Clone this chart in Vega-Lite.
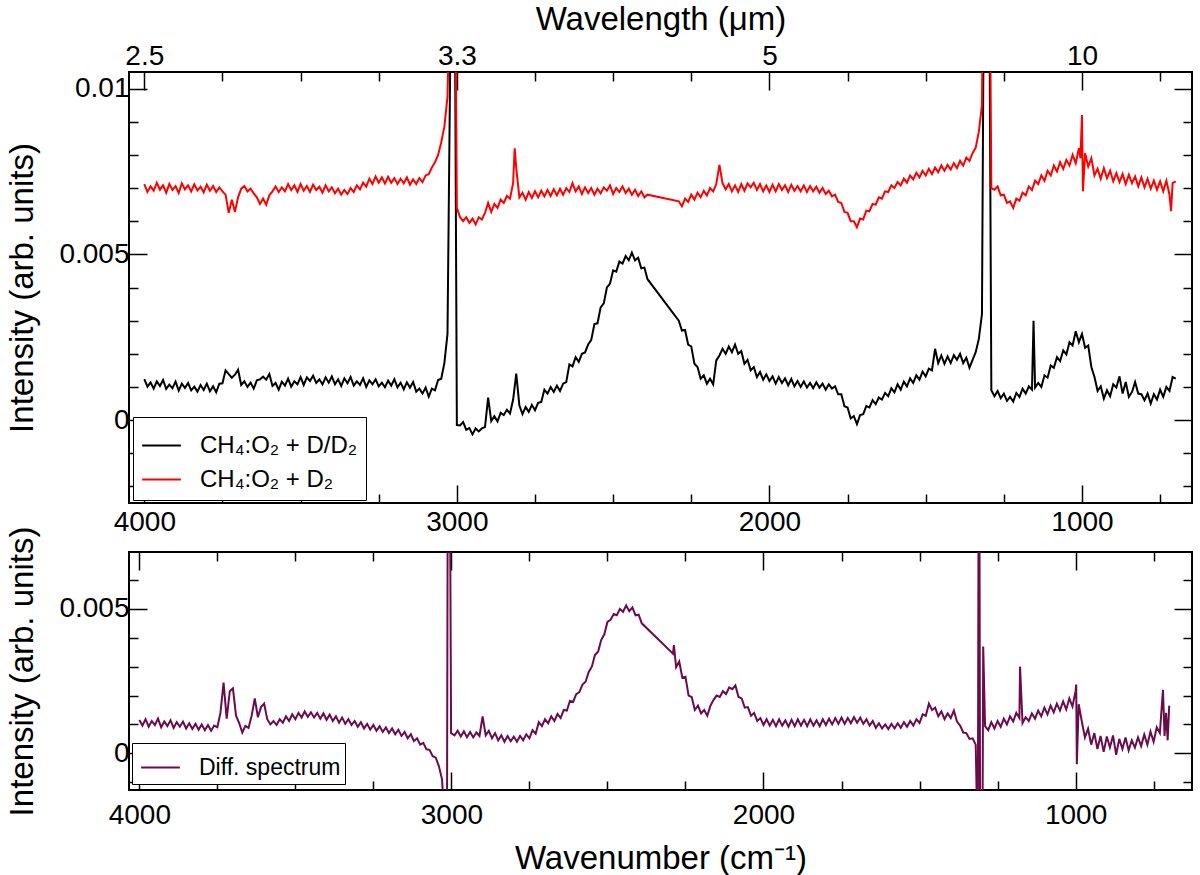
{
  "$schema": "https://vega.github.io/schema/vega-lite/v6.json",
  "padding": {"left": 5, "top": 2, "right": 5, "bottom": 0},
  "datasets": {
    "black": [
      {"w":4000,"v":0.00124},{"w":3990,"v":0.00101},{"w":3980,"v":0.00114},{"w":3970,"v":0.00095},{"w":3960,"v":0.00117},{"w":3950,"v":0.00103},{"w":3940,"v":0.00121},{"w":3930,"v":0.00094},{"w":3920,"v":0.00107},{"w":3910,"v":0.00096},
      {"w":3900,"v":0.00116},{"w":3890,"v":0.00089},{"w":3880,"v":0.0011},{"w":3870,"v":0.00097},{"w":3860,"v":0.00112},{"w":3850,"v":0.0009},{"w":3840,"v":0.00101},{"w":3830,"v":0.00086},{"w":3820,"v":0.00106},{"w":3810,"v":0.00091},
      {"w":3800,"v":0.0011},{"w":3790,"v":0.00087},{"w":3780,"v":0.00102},{"w":3770,"v":0.00084},{"w":3760,"v":0.0011},{"w":3750,"v":0.00111},{"w":3740,"v":0.0015},{"w":3730,"v":0.00139},{"w":3720,"v":0.00128},{"w":3710,"v":0.00137},
      {"w":3700,"v":0.00152},{"w":3690,"v":0.00106},{"w":3680,"v":0.00117},{"w":3670,"v":0.001},{"w":3660,"v":0.00113},{"w":3650,"v":0.00095},{"w":3640,"v":0.0012},{"w":3630,"v":0.00123},{"w":3620,"v":0.00131},{"w":3610,"v":0.00122},
      {"w":3600,"v":0.00139},{"w":3590,"v":0.00103},{"w":3580,"v":0.00112},{"w":3570,"v":0.00092},{"w":3560,"v":0.00116},{"w":3550,"v":0.00104},{"w":3540,"v":0.00125},{"w":3530,"v":0.00101},{"w":3520,"v":0.00117},{"w":3510,"v":0.00108},
      {"w":3500,"v":0.0013},{"w":3490,"v":0.00106},{"w":3480,"v":0.00129},{"w":3470,"v":0.00118},{"w":3460,"v":0.00134},{"w":3450,"v":0.00112},{"w":3440,"v":0.00123},{"w":3430,"v":0.00108},{"w":3420,"v":0.00129},{"w":3410,"v":0.00113},
      {"w":3400,"v":0.00132},{"w":3390,"v":0.00108},{"w":3380,"v":0.00123},{"w":3370,"v":0.00103},{"w":3360,"v":0.00126},{"w":3350,"v":0.00111},{"w":3340,"v":0.0013},{"w":3330,"v":0.00104},{"w":3320,"v":0.00117},{"w":3310,"v":0.00106},
      {"w":3300,"v":0.00126},{"w":3290,"v":0.001},{"w":3280,"v":0.0012},{"w":3270,"v":0.00108},{"w":3260,"v":0.00123},{"w":3250,"v":0.00102},{"w":3240,"v":0.00113},{"w":3230,"v":0.00099},{"w":3220,"v":0.00119},{"w":3210,"v":0.00104},
      {"w":3200,"v":0.00123},{"w":3190,"v":0.00099},{"w":3180,"v":0.00113},{"w":3170,"v":0.00093},{"w":3160,"v":0.00114},{"w":3150,"v":0.00098},{"w":3140,"v":0.00115},{"w":3130,"v":0.00086},{"w":3120,"v":0.00095},{"w":3110,"v":0.0008},
      {"w":3100,"v":0.00098},{"w":3090,"v":0.00071},{"w":3080,"v":0.00095},{"w":3070,"v":0.0009},{"w":3060,"v":0.00121},{"w":3050,"v":0.00125},{"w":3040,"v":0.00172},{"w":3030,"v":0.0026},{"w":3020,"v":0.012},{"w":3010,"v":0.02},
      {"w":3000,"v":-0.00015},{"w":2990,"v":-0.00016},{"w":2980,"v":-0.00006},{"w":2970,"v":-0.00029},{"w":2960,"v":-0.00024},{"w":2950,"v":-0.00043},{"w":2940,"v":-0.00025},{"w":2930,"v":-0.00034},{"w":2920,"v":-0.00025},{"w":2910,"v":-0.00021},
      {"w":2900,"v":0.00068},{"w":2890,"v":-0.00003},{"w":2880,"v":0.00012},{"w":2870,"v":-0.00004},{"w":2860,"v":0.00022},{"w":2850,"v":0.00015},{"w":2840,"v":0.00031},{"w":2830,"v":0.0002},{"w":2820,"v":0.00062},{"w":2810,"v":0.0014},
      {"w":2800,"v":0.00044},{"w":2790,"v":0.00018},{"w":2780,"v":0.0004},{"w":2770,"v":0.00025},{"w":2760,"v":0.00046},{"w":2750,"v":0.0003},{"w":2740,"v":0.00052},{"w":2730,"v":0.00055},{"w":2720,"v":0.00092},{"w":2710,"v":0.0008},
      {"w":2700,"v":0.001},{"w":2690,"v":0.00085},{"w":2680,"v":0.00104},{"w":2670,"v":0.00088},{"w":2660,"v":0.0011},{"w":2650,"v":0.00115},{"w":2640,"v":0.00168},{"w":2630,"v":0.00162},{"w":2620,"v":0.0019},{"w":2610,"v":0.00176},
      {"w":2600,"v":0.002},{"w":2590,"v":0.00204},{"w":2580,"v":0.00228},{"w":2570,"v":0.00242},{"w":2560,"v":0.0029},{"w":2550,"v":0.00292},{"w":2540,"v":0.0034},{"w":2530,"v":0.00352},{"w":2520,"v":0.004},{"w":2510,"v":0.00412},
      {"w":2500,"v":0.00452},{"w":2490,"v":0.00448},{"w":2480,"v":0.00478},{"w":2470,"v":0.00472},{"w":2460,"v":0.00495},{"w":2450,"v":0.00482},{"w":2440,"v":0.00505},{"w":2430,"v":0.00482},{"w":2420,"v":0.0049},{"w":2410,"v":0.00458},
      {"w":2400,"v":0.0046},{"w":2390,"v":0.00425},
      {"w":2290,"v":0.003},{"w":2280,"v":0.0027},{"w":2270,"v":0.00272},{"w":2260,"v":0.00228},{"w":2250,"v":0.00222},{"w":2240,"v":0.0017},{"w":2230,"v":0.0016},{"w":2220,"v":0.00125},{"w":2210,"v":0.00135},
      {"w":2200,"v":0.0011},{"w":2190,"v":0.00125},{"w":2180,"v":0.00108},{"w":2170,"v":0.0018},{"w":2160,"v":0.00195},{"w":2150,"v":0.00215},{"w":2140,"v":0.002},{"w":2130,"v":0.00222},{"w":2120,"v":0.00205},{"w":2110,"v":0.00228},
      {"w":2100,"v":0.002},{"w":2090,"v":0.00208},{"w":2080,"v":0.0017},{"w":2070,"v":0.00182},{"w":2060,"v":0.0015},{"w":2050,"v":0.0016},{"w":2040,"v":0.0013},{"w":2030,"v":0.00145},{"w":2020,"v":0.00122},{"w":2010,"v":0.00138},
      {"w":2000,"v":0.00118},{"w":1990,"v":0.00132},{"w":1980,"v":0.0011},{"w":1970,"v":0.0013},{"w":1960,"v":0.00112},{"w":1950,"v":0.00126},{"w":1940,"v":0.00105},{"w":1930,"v":0.00124},{"w":1920,"v":0.00102},{"w":1910,"v":0.00118},
      {"w":1900,"v":0.001},{"w":1890,"v":0.00117},{"w":1880,"v":0.00098},{"w":1870,"v":0.00112},{"w":1860,"v":0.00096},{"w":1850,"v":0.00114},{"w":1840,"v":0.00098},{"w":1830,"v":0.0011},{"w":1820,"v":0.00092},{"w":1810,"v":0.00108},
      {"w":1800,"v":0.00095},{"w":1790,"v":0.00102},{"w":1780,"v":0.00078},{"w":1770,"v":0.00078},{"w":1760,"v":0.00042},{"w":1750,"v":0.00038},{"w":1740,"v":0.00005},{"w":1730,"v":0.00012},{"w":1720,"v":-0.00012},{"w":1710,"v":0.00015},
      {"w":1700,"v":0.00018},{"w":1690,"v":0.00042},{"w":1680,"v":0.00038},{"w":1670,"v":0.0006},{"w":1660,"v":0.00048},{"w":1650,"v":0.00068},{"w":1640,"v":0.00062},{"w":1630,"v":0.00082},{"w":1620,"v":0.00072},{"w":1610,"v":0.00096},
      {"w":1600,"v":0.00084},{"w":1590,"v":0.00108},{"w":1580,"v":0.00092},{"w":1570,"v":0.00116},{"w":1560,"v":0.00102},{"w":1550,"v":0.00126},{"w":1540,"v":0.00112},{"w":1530,"v":0.00135},{"w":1520,"v":0.00122},{"w":1510,"v":0.00146},
      {"w":1500,"v":0.00132},{"w":1490,"v":0.00155},{"w":1480,"v":0.0015},{"w":1470,"v":0.00215},{"w":1460,"v":0.00172},{"w":1450,"v":0.00195},{"w":1440,"v":0.0017},{"w":1430,"v":0.00192},{"w":1420,"v":0.00172},{"w":1410,"v":0.00196},
      {"w":1400,"v":0.00182},{"w":1390,"v":0.002},{"w":1380,"v":0.00172},{"w":1370,"v":0.00188},{"w":1360,"v":0.00158},{"w":1350,"v":0.00182},{"w":1340,"v":0.00205},{"w":1330,"v":0.00245},{"w":1320,"v":0.0032},{"w":1310,"v":0.02},
      {"w":1300,"v":0.02},{"w":1290,"v":0.0009},{"w":1280,"v":0.00072},{"w":1270,"v":0.00088},{"w":1260,"v":0.00066},{"w":1250,"v":0.0008},{"w":1240,"v":0.00058},{"w":1230,"v":0.0007},{"w":1220,"v":0.00056},{"w":1210,"v":0.00082},
      {"w":1200,"v":0.0007},{"w":1190,"v":0.00095},{"w":1180,"v":0.0008},{"w":1170,"v":0.00102},{"w":1160,"v":0.00092},{"w":1155,"v":0.003},{"w":1150,"v":0.00098},{"w":1140,"v":0.00112},{"w":1130,"v":0.001},{"w":1120,"v":0.00135},{"w":1110,"v":0.00128},
      {"w":1100,"v":0.00165},{"w":1090,"v":0.00158},{"w":1080,"v":0.0019},{"w":1070,"v":0.00178},{"w":1060,"v":0.0021},{"w":1050,"v":0.00198},{"w":1040,"v":0.00235},{"w":1030,"v":0.00225},{"w":1020,"v":0.00268},{"w":1010,"v":0.00235},
      {"w":1000,"v":0.0026},{"w":990,"v":0.00218},{"w":980,"v":0.00225},{"w":970,"v":0.0016},{"w":960,"v":0.0013},{"w":950,"v":0.00088},{"w":940,"v":0.00102},{"w":930,"v":0.00065},{"w":920,"v":0.0009},{"w":910,"v":0.00072},
      {"w":900,"v":0.00108},{"w":890,"v":0.00098},{"w":880,"v":0.00132},{"w":870,"v":0.0008},{"w":860,"v":0.00115},{"w":850,"v":0.0007},{"w":840,"v":0.00085},{"w":830,"v":0.00115},{"w":820,"v":0.0008},{"w":810,"v":0.00078},
      {"w":800,"v":0.0006},{"w":790,"v":0.0008},{"w":780,"v":0.0005},{"w":770,"v":0.00078},{"w":760,"v":0.00062},{"w":750,"v":0.00092},{"w":740,"v":0.0007},{"w":730,"v":0.001},{"w":720,"v":0.00088},{"w":710,"v":0.0013},{"w":700,"v":0.00125}
    ],
    "red": [
      {"w":4000,"v":0.00712},{"w":3990,"v":0.00688},{"w":3980,"v":0.00705},{"w":3970,"v":0.00692},{"w":3960,"v":0.00716},{"w":3950,"v":0.00695},{"w":3940,"v":0.00708},{"w":3930,"v":0.00686},{"w":3920,"v":0.00712},{"w":3910,"v":0.00694},
      {"w":3900,"v":0.00706},{"w":3890,"v":0.00685},{"w":3880,"v":0.00714},{"w":3870,"v":0.00696},{"w":3860,"v":0.00708},{"w":3850,"v":0.0069},{"w":3840,"v":0.00711},{"w":3830,"v":0.00693},{"w":3820,"v":0.00704},{"w":3810,"v":0.00687},
      {"w":3800,"v":0.0071},{"w":3790,"v":0.00692},{"w":3780,"v":0.00706},{"w":3770,"v":0.00688},{"w":3760,"v":0.00702},{"w":3750,"v":0.0069},{"w":3740,"v":0.0068},{"w":3730,"v":0.00625},{"w":3720,"v":0.00665},{"w":3710,"v":0.00628},
      {"w":3700,"v":0.00672},{"w":3690,"v":0.00698},{"w":3680,"v":0.00706},{"w":3670,"v":0.0069},{"w":3660,"v":0.00698},{"w":3650,"v":0.00684},{"w":3640,"v":0.00672},{"w":3630,"v":0.00652},{"w":3620,"v":0.00668},{"w":3610,"v":0.0065},
      {"w":3600,"v":0.00678},{"w":3590,"v":0.0069},{"w":3580,"v":0.00705},{"w":3570,"v":0.00688},{"w":3560,"v":0.00702},{"w":3550,"v":0.0069},{"w":3540,"v":0.00712},{"w":3530,"v":0.00694},{"w":3520,"v":0.00708},{"w":3510,"v":0.00688},
      {"w":3500,"v":0.00712},{"w":3490,"v":0.00692},{"w":3480,"v":0.00706},{"w":3470,"v":0.00688},{"w":3460,"v":0.0071},{"w":3450,"v":0.00694},{"w":3440,"v":0.00704},{"w":3430,"v":0.00686},{"w":3420,"v":0.00708},{"w":3410,"v":0.0069},
      {"w":3400,"v":0.00702},{"w":3390,"v":0.00684},{"w":3380,"v":0.00698},{"w":3370,"v":0.0068},{"w":3360,"v":0.00694},{"w":3350,"v":0.00682},{"w":3340,"v":0.007},{"w":3330,"v":0.00688},{"w":3320,"v":0.00708},{"w":3310,"v":0.00696},
      {"w":3300,"v":0.00716},{"w":3290,"v":0.00704},{"w":3280,"v":0.00728},{"w":3270,"v":0.00712},{"w":3260,"v":0.00735},{"w":3250,"v":0.00716},{"w":3240,"v":0.00732},{"w":3230,"v":0.00714},{"w":3220,"v":0.00734},{"w":3210,"v":0.00716},
      {"w":3200,"v":0.0073},{"w":3190,"v":0.00712},{"w":3180,"v":0.00728},{"w":3170,"v":0.00714},{"w":3160,"v":0.00732},{"w":3150,"v":0.0071},{"w":3140,"v":0.00726},{"w":3130,"v":0.00712},{"w":3120,"v":0.0073},{"w":3110,"v":0.00718},
      {"w":3100,"v":0.00738},{"w":3090,"v":0.00742},{"w":3080,"v":0.00762},{"w":3070,"v":0.00778},{"w":3060,"v":0.008},{"w":3050,"v":0.00838},{"w":3040,"v":0.00885},{"w":3030,"v":0.00975},{"w":3020,"v":0.014},{"w":3010,"v":0.02},
      {"w":3000,"v":0.0064},{"w":2990,"v":0.00612},{"w":2980,"v":0.006},{"w":2970,"v":0.00612},{"w":2960,"v":0.00595},{"w":2950,"v":0.00608},{"w":2940,"v":0.0059},{"w":2930,"v":0.00612},{"w":2920,"v":0.00605},{"w":2910,"v":0.00625},
      {"w":2900,"v":0.00655},{"w":2890,"v":0.00628},{"w":2880,"v":0.00652},{"w":2870,"v":0.0064},{"w":2860,"v":0.00665},{"w":2850,"v":0.00655},{"w":2840,"v":0.00676},{"w":2830,"v":0.00668},{"w":2820,"v":0.00715},{"w":2815,"v":0.0082},{"w":2810,"v":0.0076},
      {"w":2800,"v":0.00672},{"w":2790,"v":0.00686},{"w":2780,"v":0.00665},{"w":2770,"v":0.00688},{"w":2760,"v":0.0067},{"w":2750,"v":0.0069},{"w":2740,"v":0.00672},{"w":2730,"v":0.00692},{"w":2720,"v":0.00675},{"w":2710,"v":0.00694},
      {"w":2700,"v":0.00676},{"w":2690,"v":0.00696},{"w":2680,"v":0.00678},{"w":2670,"v":0.00698},{"w":2660,"v":0.0068},{"w":2650,"v":0.007},{"w":2640,"v":0.00688},{"w":2630,"v":0.00715},{"w":2620,"v":0.0069},{"w":2610,"v":0.00705},
      {"w":2600,"v":0.00682},{"w":2590,"v":0.00702},{"w":2580,"v":0.00685},{"w":2570,"v":0.007},{"w":2560,"v":0.0068},{"w":2550,"v":0.00698},{"w":2540,"v":0.00684},{"w":2530,"v":0.00702},{"w":2520,"v":0.00692},{"w":2510,"v":0.00708},
      {"w":2500,"v":0.00682},{"w":2490,"v":0.007},{"w":2480,"v":0.00688},{"w":2470,"v":0.00705},{"w":2460,"v":0.00685},{"w":2450,"v":0.00698},{"w":2440,"v":0.0068},{"w":2430,"v":0.00695},{"w":2420,"v":0.00676},{"w":2410,"v":0.0069},
      {"w":2400,"v":0.00672},{"w":2390,"v":0.0068},
      {"w":2290,"v":0.0066},{"w":2280,"v":0.00645},{"w":2270,"v":0.00668},{"w":2260,"v":0.00658},{"w":2250,"v":0.0068},{"w":2240,"v":0.00665},{"w":2230,"v":0.00686},{"w":2220,"v":0.00672},{"w":2210,"v":0.00692},
      {"w":2200,"v":0.00678},{"w":2190,"v":0.007},{"w":2180,"v":0.0069},{"w":2170,"v":0.00712},{"w":2160,"v":0.0077},{"w":2150,"v":0.00715},{"w":2140,"v":0.00696},{"w":2130,"v":0.00712},{"w":2120,"v":0.0069},{"w":2110,"v":0.00708},
      {"w":2100,"v":0.00688},{"w":2090,"v":0.00712},{"w":2080,"v":0.00692},{"w":2070,"v":0.00714},{"w":2060,"v":0.00702},{"w":2050,"v":0.00716},{"w":2040,"v":0.00694},{"w":2030,"v":0.00712},{"w":2020,"v":0.0069},{"w":2010,"v":0.00708},
      {"w":2000,"v":0.00688},{"w":1990,"v":0.0071},{"w":1980,"v":0.0069},{"w":1970,"v":0.00712},{"w":1960,"v":0.00694},{"w":1950,"v":0.00708},{"w":1940,"v":0.00688},{"w":1930,"v":0.0071},{"w":1920,"v":0.00692},{"w":1910,"v":0.00706},
      {"w":1900,"v":0.0069},{"w":1890,"v":0.00708},{"w":1880,"v":0.00688},{"w":1870,"v":0.00706},{"w":1860,"v":0.0069},{"w":1850,"v":0.00704},{"w":1840,"v":0.00686},{"w":1830,"v":0.007},{"w":1820,"v":0.00682},{"w":1810,"v":0.00692},
      {"w":1800,"v":0.00675},{"w":1790,"v":0.0068},{"w":1780,"v":0.00658},{"w":1770,"v":0.00655},{"w":1760,"v":0.00628},{"w":1750,"v":0.00625},{"w":1740,"v":0.006},{"w":1730,"v":0.006},{"w":1720,"v":0.00582},{"w":1710,"v":0.00608},
      {"w":1700,"v":0.00605},{"w":1690,"v":0.00632},{"w":1680,"v":0.0063},{"w":1670,"v":0.00652},{"w":1660,"v":0.0065},{"w":1650,"v":0.00672},{"w":1640,"v":0.00668},{"w":1630,"v":0.0069},{"w":1620,"v":0.00688},{"w":1610,"v":0.00708},
      {"w":1600,"v":0.007},{"w":1590,"v":0.00718},{"w":1580,"v":0.00708},{"w":1570,"v":0.00728},{"w":1560,"v":0.00716},{"w":1550,"v":0.00738},{"w":1540,"v":0.00726},{"w":1530,"v":0.00746},{"w":1520,"v":0.00732},{"w":1510,"v":0.00752},
      {"w":1500,"v":0.00738},{"w":1490,"v":0.00758},{"w":1480,"v":0.00742},{"w":1470,"v":0.00762},{"w":1460,"v":0.00748},{"w":1450,"v":0.00768},{"w":1440,"v":0.00752},{"w":1430,"v":0.0077},{"w":1420,"v":0.00756},{"w":1410,"v":0.00775},
      {"w":1400,"v":0.0076},{"w":1390,"v":0.00782},{"w":1380,"v":0.00768},{"w":1370,"v":0.00792},{"w":1360,"v":0.00782},{"w":1350,"v":0.00805},{"w":1340,"v":0.00822},{"w":1330,"v":0.0087},{"w":1320,"v":0.0095},{"w":1310,"v":0.02},
      {"w":1300,"v":0.02},{"w":1290,"v":0.007},{"w":1280,"v":0.00695},{"w":1270,"v":0.00705},{"w":1260,"v":0.00678},{"w":1250,"v":0.0068},{"w":1240,"v":0.00655},{"w":1230,"v":0.0066},{"w":1220,"v":0.0064},{"w":1210,"v":0.00668},
      {"w":1200,"v":0.00662},{"w":1190,"v":0.00686},{"w":1180,"v":0.00678},{"w":1170,"v":0.00705},{"w":1160,"v":0.00694},{"w":1150,"v":0.00722},{"w":1140,"v":0.00712},{"w":1130,"v":0.00738},{"w":1120,"v":0.00722},{"w":1110,"v":0.00752},
      {"w":1100,"v":0.00738},{"w":1090,"v":0.00768},{"w":1080,"v":0.0075},{"w":1070,"v":0.00778},{"w":1060,"v":0.00758},{"w":1050,"v":0.00785},{"w":1040,"v":0.00768},{"w":1030,"v":0.008},{"w":1020,"v":0.00775},{"w":1010,"v":0.0082},
      {"w":1005,"v":0.0079},{"w":1000,"v":0.0092},{"w":997,"v":0.0069},{"w":990,"v":0.00805},{"w":980,"v":0.00765},{"w":970,"v":0.0079},{"w":960,"v":0.00738},{"w":950,"v":0.00758},{"w":940,"v":0.00728},{"w":930,"v":0.0076},{"w":920,"v":0.0073},{"w":910,"v":0.00752},
      {"w":900,"v":0.0072},{"w":890,"v":0.00745},{"w":880,"v":0.00718},{"w":870,"v":0.00742},{"w":860,"v":0.00712},{"w":850,"v":0.0074},{"w":840,"v":0.00715},{"w":830,"v":0.00735},{"w":820,"v":0.00705},{"w":810,"v":0.00732},
      {"w":800,"v":0.00702},{"w":790,"v":0.00728},{"w":780,"v":0.00698},{"w":770,"v":0.00722},{"w":760,"v":0.00695},{"w":750,"v":0.0072},{"w":740,"v":0.0069},{"w":730,"v":0.00722},{"w":720,"v":0.0068},{"w":715,"v":0.0063},{"w":710,"v":0.00715},{"w":700,"v":0.0072}
    ],
    "diff": [
      {"w":4000,"v":0.00115},{"w":3990,"v":0.00096},{"w":3980,"v":0.00118},{"w":3970,"v":0.00092},{"w":3960,"v":0.00112},{"w":3950,"v":0.00098},{"w":3940,"v":0.0012},{"w":3930,"v":0.0009},{"w":3920,"v":0.0011},{"w":3910,"v":0.00094},
      {"w":3900,"v":0.00114},{"w":3890,"v":0.00088},{"w":3880,"v":0.00108},{"w":3870,"v":0.00092},{"w":3860,"v":0.0011},{"w":3850,"v":0.00086},{"w":3840,"v":0.00104},{"w":3830,"v":0.00084},{"w":3820,"v":0.00102},{"w":3810,"v":0.00082},
      {"w":3800,"v":0.001},{"w":3790,"v":0.0008},{"w":3780,"v":0.00098},{"w":3770,"v":0.00078},{"w":3760,"v":0.00096},{"w":3750,"v":0.0009},{"w":3740,"v":0.0014},{"w":3730,"v":0.00245},{"w":3720,"v":0.0012},{"w":3710,"v":0.00215},
      {"w":3700,"v":0.00225},{"w":3690,"v":0.0013},{"w":3680,"v":0.00105},{"w":3670,"v":0.00072},{"w":3660,"v":0.00095},{"w":3650,"v":0.00088},{"w":3640,"v":0.0013},{"w":3630,"v":0.0019},{"w":3620,"v":0.00125},{"w":3610,"v":0.0016},
      {"w":3600,"v":0.00172},{"w":3590,"v":0.00118},{"w":3580,"v":0.001},{"w":3570,"v":0.00112},{"w":3560,"v":0.00098},{"w":3550,"v":0.00118},{"w":3540,"v":0.00106},{"w":3530,"v":0.00128},{"w":3520,"v":0.00112},{"w":3510,"v":0.00135},
      {"w":3500,"v":0.00118},{"w":3490,"v":0.0014},{"w":3480,"v":0.00124},{"w":3470,"v":0.00145},{"w":3460,"v":0.00126},{"w":3450,"v":0.00142},{"w":3440,"v":0.00124},{"w":3430,"v":0.0014},{"w":3420,"v":0.0012},{"w":3410,"v":0.00138},
      {"w":3400,"v":0.00116},{"w":3390,"v":0.00134},{"w":3380,"v":0.00112},{"w":3370,"v":0.00128},{"w":3360,"v":0.00106},{"w":3350,"v":0.00124},{"w":3340,"v":0.00102},{"w":3330,"v":0.00118},{"w":3320,"v":0.00098},{"w":3310,"v":0.00112},
      {"w":3300,"v":0.00092},{"w":3290,"v":0.00108},{"w":3280,"v":0.00086},{"w":3270,"v":0.00102},{"w":3260,"v":0.00082},{"w":3250,"v":0.00098},{"w":3240,"v":0.00078},{"w":3230,"v":0.00094},{"w":3220,"v":0.00074},{"w":3210,"v":0.0009},
      {"w":3200,"v":0.0007},{"w":3190,"v":0.00086},{"w":3180,"v":0.00066},{"w":3170,"v":0.00082},{"w":3160,"v":0.0006},{"w":3150,"v":0.00074},{"w":3140,"v":0.00052},{"w":3130,"v":0.00066},{"w":3120,"v":0.00042},{"w":3110,"v":0.00052},
      {"w":3100,"v":0.0003},{"w":3090,"v":0.00036},{"w":3080,"v":0.00014},{"w":3070,"v":0.00012},{"w":3060,"v":-0.0001},{"w":3050,"v":-0.00015},{"w":3040,"v":-0.00045},{"w":3030,"v":-0.0009},{"w":3024,"v":-0.002},{"w":3014,"v":-0.002},
      {"w":3012,"v":0.008},{"w":3004,"v":0.008},{"w":3001,"v":0.0007},{"w":2990,"v":0.00062},{"w":2980,"v":0.00078},{"w":2970,"v":0.00058},{"w":2960,"v":0.00076},{"w":2950,"v":0.00056},{"w":2940,"v":0.00074},{"w":2930,"v":0.00055},{"w":2920,"v":0.00072},{"w":2910,"v":0.0006},
      {"w":2900,"v":0.00128},{"w":2890,"v":0.00062},{"w":2880,"v":0.00078},{"w":2870,"v":0.00052},{"w":2860,"v":0.0007},{"w":2850,"v":0.00045},{"w":2840,"v":0.00062},{"w":2830,"v":0.0004},{"w":2820,"v":0.0006},{"w":2810,"v":0.00042},
      {"w":2800,"v":0.00058},{"w":2790,"v":0.0004},{"w":2780,"v":0.0006},{"w":2770,"v":0.00045},{"w":2760,"v":0.00066},{"w":2750,"v":0.00052},{"w":2740,"v":0.0008},{"w":2730,"v":0.00068},{"w":2720,"v":0.00108},{"w":2710,"v":0.00094},
      {"w":2700,"v":0.00118},{"w":2690,"v":0.00104},{"w":2680,"v":0.00128},{"w":2670,"v":0.00112},{"w":2660,"v":0.00136},{"w":2650,"v":0.00122},{"w":2640,"v":0.0015},{"w":2630,"v":0.00148},{"w":2620,"v":0.00182},{"w":2610,"v":0.00178},
      {"w":2600,"v":0.00205},{"w":2590,"v":0.00212},{"w":2580,"v":0.00238},{"w":2570,"v":0.00248},{"w":2560,"v":0.00282},{"w":2550,"v":0.003},{"w":2540,"v":0.0034},{"w":2530,"v":0.00352},{"w":2520,"v":0.00392},{"w":2510,"v":0.00412},
      {"w":2500,"v":0.00455},{"w":2490,"v":0.00462},{"w":2480,"v":0.00482},{"w":2470,"v":0.00478},{"w":2460,"v":0.005},{"w":2450,"v":0.0049},{"w":2440,"v":0.00512},{"w":2430,"v":0.00492},{"w":2420,"v":0.00505},{"w":2410,"v":0.00478},
      {"w":2400,"v":0.0048},{"w":2390,"v":0.0045},
      {"w":2290,"v":0.00345},{"w":2287,"v":0.00375},{"w":2280,"v":0.00298},{"w":2270,"v":0.00318},{"w":2260,"v":0.00262},{"w":2250,"v":0.00265},{"w":2240,"v":0.002},{"w":2230,"v":0.00195},{"w":2220,"v":0.0015},{"w":2210,"v":0.00165},
      {"w":2200,"v":0.00138},{"w":2190,"v":0.0015},{"w":2180,"v":0.0013},{"w":2170,"v":0.00165},{"w":2160,"v":0.00185},{"w":2150,"v":0.002},{"w":2140,"v":0.00195},{"w":2130,"v":0.00215},{"w":2120,"v":0.00205},{"w":2110,"v":0.00228},
      {"w":2100,"v":0.00222},{"w":2090,"v":0.00235},{"w":2080,"v":0.00195},{"w":2070,"v":0.0019},{"w":2060,"v":0.00158},{"w":2050,"v":0.0016},{"w":2040,"v":0.0013},{"w":2030,"v":0.0014},{"w":2020,"v":0.00112},{"w":2010,"v":0.00122},
      {"w":2000,"v":0.00098},{"w":1990,"v":0.00118},{"w":1980,"v":0.00096},{"w":1970,"v":0.00116},{"w":1960,"v":0.00094},{"w":1950,"v":0.00118},{"w":1940,"v":0.00096},{"w":1930,"v":0.00114},{"w":1920,"v":0.00092},{"w":1910,"v":0.00116},
      {"w":1900,"v":0.00094},{"w":1890,"v":0.00118},{"w":1880,"v":0.00096},{"w":1870,"v":0.00116},{"w":1860,"v":0.00094},{"w":1850,"v":0.00118},{"w":1840,"v":0.00096},{"w":1830,"v":0.00114},{"w":1820,"v":0.00094},{"w":1810,"v":0.00118},
      {"w":1800,"v":0.00098},{"w":1790,"v":0.0012},{"w":1780,"v":0.001},{"w":1770,"v":0.00122},{"w":1760,"v":0.00102},{"w":1750,"v":0.00124},{"w":1740,"v":0.00102},{"w":1730,"v":0.00122},{"w":1720,"v":0.00104},{"w":1710,"v":0.00125},
      {"w":1700,"v":0.00106},{"w":1690,"v":0.00124},{"w":1680,"v":0.00102},{"w":1670,"v":0.00118},{"w":1660,"v":0.00096},{"w":1650,"v":0.00112},{"w":1640,"v":0.00088},{"w":1630,"v":0.00104},{"w":1620,"v":0.00086},{"w":1610,"v":0.001},
      {"w":1600,"v":0.00084},{"w":1590,"v":0.00102},{"w":1580,"v":0.00086},{"w":1570,"v":0.00104},{"w":1560,"v":0.00088},{"w":1550,"v":0.00108},{"w":1540,"v":0.00092},{"w":1530,"v":0.00112},{"w":1520,"v":0.00096},{"w":1510,"v":0.00118},
      {"w":1500,"v":0.00105},{"w":1490,"v":0.00135},{"w":1480,"v":0.0013},{"w":1470,"v":0.00172},{"w":1460,"v":0.0015},{"w":1450,"v":0.00158},{"w":1440,"v":0.00128},{"w":1430,"v":0.00145},{"w":1420,"v":0.00118},{"w":1410,"v":0.00138},
      {"w":1400,"v":0.00122},{"w":1390,"v":0.00148},{"w":1380,"v":0.0011},{"w":1370,"v":0.00096},{"w":1360,"v":0.00072},{"w":1350,"v":0.0007},{"w":1340,"v":0.0005},{"w":1330,"v":0.00052},{"w":1320,"v":0.0003},{"w":1316,"v":-0.002},
      {"w":1313,"v":-0.002},{"w":1311,"v":0.008},{"w":1308,"v":0.008},{"w":1306,"v":-0.002},{"w":1298,"v":-0.002},{"w":1296,"v":0.0037},{"w":1290,"v":0.00094},{"w":1280,"v":0.0008},{"w":1270,"v":0.00108},{"w":1260,"v":0.00086},{"w":1250,"v":0.00112},
      {"w":1240,"v":0.00092},{"w":1230,"v":0.0012},{"w":1220,"v":0.001},{"w":1210,"v":0.00128},{"w":1200,"v":0.0011},{"w":1190,"v":0.0014},{"w":1180,"v":0.00122},{"w":1178,"v":0.003},{"w":1170,"v":0.00105},{"w":1160,"v":0.00125},
      {"w":1150,"v":0.00112},{"w":1140,"v":0.00138},{"w":1130,"v":0.0012},{"w":1120,"v":0.00148},{"w":1110,"v":0.00128},{"w":1100,"v":0.00158},{"w":1090,"v":0.00135},{"w":1080,"v":0.00165},{"w":1070,"v":0.00142},{"w":1060,"v":0.00172},
      {"w":1050,"v":0.00148},{"w":1040,"v":0.0018},{"w":1030,"v":0.00152},{"w":1020,"v":0.0019},{"w":1010,"v":0.00162},{"w":1000,"v":0.00215},{"w":998,"v":0.00238},{"w":996,"v":-0.00038},{"w":990,"v":0.0017},{"w":980,"v":0.0011},
      {"w":970,"v":0.00055},{"w":960,"v":0.00085},{"w":950,"v":0.0003},{"w":940,"v":0.0007},{"w":930,"v":0.00015},{"w":920,"v":0.0006},{"w":910,"v":0.00005},{"w":900,"v":0.00058},{"w":890,"v":0.0002},{"w":880,"v":0.00062},
      {"w":870,"v":-0.00005},{"w":860,"v":0.0005},{"w":850,"v":0.00015},{"w":840,"v":0.00055},{"w":830,"v":0.0001},{"w":820,"v":0.00045},{"w":810,"v":0.0002},{"w":800,"v":0.00055},{"w":790,"v":0.00025},{"w":780,"v":0.00065},
      {"w":770,"v":0.0003},{"w":760,"v":0.00075},{"w":750,"v":0.0004},{"w":740,"v":0.0009},{"w":730,"v":0.0007},{"w":720,"v":0.0022},{"w":715,"v":0.0006},{"w":710,"v":0.0014},{"w":705,"v":0.00045},{"w":700,"v":0.00165}
    ]
  },
  "config": {
    "font": "Liberation Sans",
    "view": {"stroke": "#000000", "strokeWidth": 2},
    "axis": {
      "domain": false,
      "grid": false,
      "labelFont": "Liberation Sans",
      "labelFontSize": 28,
      "labelColor": "#000000",
      "labelOverlap": false,
      "labelFlush": false,
      "labelBound": false,
      "titleFont": "Liberation Sans",
      "titleFontSize": 33,
      "titleFontWeight": "normal",
      "titleColor": "#000000",
      "tickColor": "#000000",
      "tickWidth": 1.5
    },
    "legend": {
      "labelFont": "Liberation Sans",
      "labelColor": "#000000"
    }
  },
  "resolve": {"scale": {"color": "independent"}},
  "bounds": "flush",
  "spacing": 49,
  "vconcat": [
    {
      "width": 1063,
      "height": 431,
      "layer": [
        {
          "data": {"name": "black"},
          "mark": {"type": "line", "clip": true, "strokeWidth": 2},
          "encoding": {
            "x": {
              "field": "w", "type": "quantitative",
              "scale": {"domain": [4049, 648], "nice": false, "zero": false},
              "axis": {
                "orient": "bottom", "title": null,
                "values": [4000, 3750, 3500, 3250, 3000, 2750, 2500, 2250, 2000, 1750, 1500, 1250, 1000, 750],
                "labelExpr": "datum.value % 1000 === 0 ? format(datum.value, 'd') : ''",
                "tickSize": {"condition": {"test": "datum.value % 1000 === 0", "value": -18}, "value": -9},
                "labelPadding": 23
              }
            },
            "y": {
              "field": "v", "type": "quantitative",
              "scale": {"domain": [-0.0025, 0.0105], "nice": false, "zero": false},
              "axis": {
                "orient": "left", "title": "Intensity (arb. units)",
                "values": [-0.002, -0.001, 0, 0.001, 0.002, 0.003, 0.004, 0.005, 0.006, 0.007, 0.008, 0.009, 0.01],
                "labelExpr": "abs(round(datum.value * 1000)) % 5 === 0 ? format(datum.value, '~g') : ''",
                "tickSize": {"condition": {"test": "abs(round(datum.value * 1000)) % 5 === 0", "value": -18}, "value": -9},
                "labelPadding": 18,
                "titlePadding": 19
              }
            },
            "color": {
              "datum": "CH₄:O₂ + D/D₂", "type": "nominal",
              "scale": {"domain": ["CH₄:O₂ + D/D₂", "CH₄:O₂ + D₂"], "range": ["#000000", "#ff0000"]},
              "legend": {
                "title": null, "orient": "none", "legendX": 4, "legendY": 345,
                "symbolType": "stroke", "symbolSize": 1500, "symbolStrokeWidth": 2,
                "labelFontSize": 24, "labelOffset": 18, "padding": 8, "symbolOffset": 0, "rowPadding": 1,
                "strokeColor": "#000000", "fillColor": "#ffffff", "labelLimit": 400
              }
            }
          }
        },
        {
          "data": {"name": "red"},
          "mark": {"type": "line", "clip": true, "strokeWidth": 2},
          "encoding": {
            "x": {
              "field": "w", "type": "quantitative",
              "axis": {
                "orient": "top", "title": "Wavelength (μm)",
                "values": [4000, 3750, 3500, 3250, 3000, 2750, 2500, 2250, 2000, 1750, 1500, 1250, 1000, 750],
                "labelExpr": "datum.value % 1000 === 0 ? format(10000 / datum.value, '.2~r') : ''",
                "tickSize": {"condition": {"test": "datum.value % 1000 === 0", "value": -18}, "value": -9},
                "labelPadding": 20,
                "titlePadding": -3
              }
            },
            "y": {
              "field": "v", "type": "quantitative",
              "axis": {
                "orient": "right", "title": null, "labels": false,
                "values": [-0.002, -0.001, 0, 0.001, 0.002, 0.003, 0.004, 0.005, 0.006, 0.007, 0.008, 0.009, 0.01],
                "tickSize": {"condition": {"test": "abs(round(datum.value * 1000)) % 5 === 0", "value": -18}, "value": -9}
              }
            },
            "color": {"datum": "CH₄:O₂ + D₂", "type": "nominal"}
          }
        }
      ],
      "resolve": {"axis": {"x": "independent", "y": "independent"}}
    },
    {
      "width": 1063,
      "height": 238,
      "layer": [
        {
          "data": {"name": "diff"},
          "mark": {"type": "line", "clip": true, "strokeWidth": 2},
          "encoding": {
            "x": {
              "field": "w", "type": "quantitative",
              "scale": {"domain": [4033, 627], "nice": false, "zero": false},
              "axis": {
                "orient": "bottom", "title": "Wavenumber (cm⁻¹)",
                "values": [4000, 3750, 3500, 3250, 3000, 2750, 2500, 2250, 2000, 1750, 1500, 1250, 1000, 750],
                "labelExpr": "datum.value % 1000 === 0 ? format(datum.value, 'd') : ''",
                "tickSize": {"condition": {"test": "datum.value % 1000 === 0", "value": -18}, "value": -9},
                "labelPadding": 29,
                "titlePadding": 4
              }
            },
            "y": {
              "field": "v", "type": "quantitative",
              "scale": {"domain": [-0.00127, 0.00697], "nice": false, "zero": false},
              "axis": {
                "orient": "left", "title": "Intensity (arb. units)",
                "values": [-0.001, 0, 0.001, 0.002, 0.003, 0.004, 0.005, 0.006],
                "labelExpr": "abs(round(datum.value * 1000)) % 5 === 0 ? format(datum.value, '~g') : ''",
                "tickSize": {"condition": {"test": "abs(round(datum.value * 1000)) % 5 === 0", "value": -18}, "value": -9},
                "labelPadding": 18,
                "titlePadding": 19
              }
            },
            "color": {
              "datum": "Diff. spectrum", "type": "nominal",
              "scale": {"domain": ["Diff. spectrum"], "range": ["#6b0c4a"]},
              "legend": {
                "title": null, "orient": "none", "legendX": 3, "legendY": 191,
                "symbolType": "stroke", "symbolSize": 1500, "symbolStrokeWidth": 2,
                "labelFontSize": 23, "labelOffset": 18, "padding": 4, "symbolOffset": 4, "rowPadding": 0,
                "strokeColor": "#000000", "fillColor": "#ffffff", "labelLimit": 400
              }
            }
          }
        },
        {
          "data": {"name": "diff"},
          "mark": {"type": "line", "clip": true, "opacity": 0},
          "encoding": {
            "x": {
              "field": "w", "type": "quantitative",
              "axis": {
                "orient": "top", "title": null, "labels": false,
                "values": [4000, 3750, 3500, 3250, 3000, 2750, 2500, 2250, 2000, 1750, 1500, 1250, 1000, 750],
                "tickSize": {"condition": {"test": "datum.value % 1000 === 0", "value": -18}, "value": -9}
              }
            },
            "y": {
              "field": "v", "type": "quantitative",
              "axis": {
                "orient": "right", "title": null, "labels": false,
                "values": [-0.001, 0, 0.001, 0.002, 0.003, 0.004, 0.005, 0.006],
                "tickSize": {"condition": {"test": "abs(round(datum.value * 1000)) % 5 === 0", "value": -18}, "value": -9}
              }
            }
          }
        }
      ],
      "resolve": {"axis": {"x": "independent", "y": "independent"}}
    }
  ]
}
